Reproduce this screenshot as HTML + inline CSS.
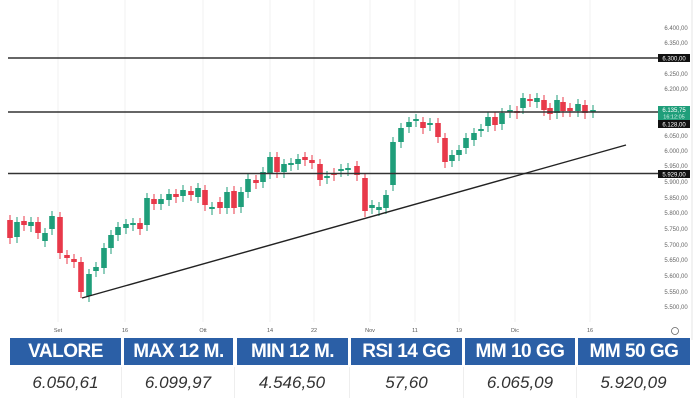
<!DOCTYPE html>
<html><head><meta charset="utf-8"><style>
html,body{margin:0;padding:0;background:#fff;width:700px;height:400px;overflow:hidden;font-family:"Liberation Sans",sans-serif}
.tbl{position:absolute;left:0;top:338px;width:700px}
.c{position:absolute;box-sizing:border-box;text-align:center}
.h{top:0;height:27px;background:#2b5fa6;color:#fff;font-weight:bold;font-size:19px;line-height:28px;letter-spacing:-0.5px}
.v{top:29px;height:31px;color:#333;font-style:italic;font-size:17px;line-height:31px;border-right:1px solid #eee}
</style></head><body>
<svg width="700" height="340" style="position:absolute;left:0;top:0" id="s" xmlns="http://www.w3.org/2000/svg">
<g stroke="#f2f2f2" stroke-width="1">
<line x1="58" y1="0" x2="58" y2="322"/><line x1="125" y1="0" x2="125" y2="322"/><line x1="203" y1="0" x2="203" y2="322"/><line x1="270" y1="0" x2="270" y2="322"/><line x1="314" y1="0" x2="314" y2="322"/><line x1="370" y1="0" x2="370" y2="322"/><line x1="415" y1="0" x2="415" y2="322"/><line x1="459" y1="0" x2="459" y2="322"/><line x1="515" y1="0" x2="515" y2="322"/><line x1="590" y1="0" x2="590" y2="322"/>
</g>
<line x1="692" y1="0" x2="692" y2="340" stroke="#e6e6e6"/>
<g id="cd"></g>
<line x1="8" y1="58" x2="658" y2="58" stroke="#333" stroke-width="1.5"/>
<line x1="8" y1="112" x2="658" y2="112" stroke="#333" stroke-width="1.5"/>
<line x1="8" y1="173.5" x2="658" y2="173.5" stroke="#333" stroke-width="1.5"/>
<line x1="82" y1="298" x2="626" y2="145" stroke="#222" stroke-width="1.4"/>
<g font-size="6" fill="#666" text-anchor="middle">
<text x="676" y="30">6.400,00</text><text x="676" y="45">6.350,00</text><text x="676" y="76">6.250,00</text><text x="676" y="91">6.200,00</text><text x="676" y="138">6.050,00</text><text x="676" y="153">6.000,00</text><text x="676" y="168">5.950,00</text><text x="676" y="184">5.900,00</text><text x="676" y="200">5.850,00</text><text x="676" y="215">5.800,00</text><text x="676" y="231">5.750,00</text><text x="676" y="247">5.700,00</text><text x="676" y="262">5.650,00</text><text x="676" y="278">5.600,00</text><text x="676" y="294">5.550,00</text><text x="676" y="309">5.500,00</text>
</g>
<rect x="658" y="54" width="32" height="8" fill="#111"/><text x="674" y="60.5" font-size="6" fill="#fff" text-anchor="middle">6.300,00</text>
<rect x="658" y="106" width="32" height="14" fill="#1f9e7a"/><text x="674" y="112" font-size="6" fill="#fff" text-anchor="middle">6.135,75</text><text x="674" y="118.5" font-size="5.5" fill="#d8f5ec" text-anchor="middle">16:12:05</text>
<rect x="658" y="120" width="32" height="8" fill="#111"/><text x="674" y="126.5" font-size="6" fill="#fff" text-anchor="middle">6.128,00</text>
<rect x="658" y="170" width="32" height="8" fill="#111"/><text x="674" y="176.5" font-size="6" fill="#fff" text-anchor="middle">5.929,00</text>
<g font-size="5.5" fill="#555" text-anchor="middle">
<text x="58" y="332">Set</text><text x="125" y="332">16</text><text x="203" y="332">Ott</text><text x="270" y="332">14</text><text x="314" y="332">22</text><text x="370" y="332">Nov</text><text x="415" y="332">11</text><text x="459" y="332">19</text><text x="515" y="332">Dic</text><text x="590" y="332">16</text>
</g>
<circle cx="675" cy="331" r="3.5" fill="none" stroke="#666" stroke-width="0.8"/>
</svg>
<div class="tbl">
<div class="c h" style="left:10px;width:111px">VALORE</div>
<div class="c h" style="left:124px;width:109px">MAX 12 M.</div>
<div class="c h" style="left:237px;width:111px">MIN 12 M.</div>
<div class="c h" style="left:351px;width:111px">RSI 14 GG</div>
<div class="c h" style="left:465px;width:110px">MM 10 GG</div>
<div class="c h" style="left:578px;width:112px">MM 50 GG</div>
<div class="c v" style="left:10px;width:112px">6.050,61</div>
<div class="c v" style="left:122px;width:113px">6.099,97</div>
<div class="c v" style="left:235px;width:115px">4.546,50</div>
<div class="c v" style="left:350px;width:114px">57,60</div>
<div class="c v" style="left:464px;width:113px">6.065,09</div>
<div class="c v" style="left:577px;width:113px;border-right:none">5.920,09</div>
</div>
<script>
var d=[[10,'r',220,238],[17,'g',222,237],[24,'r',221,225],[31,'g',222,226],[38,'r',222,233],[45,'g',233,241],[52,'g',216,229],[60,'r',217,253],[67,'r',255,258],[74,'r',259,262],[81,'r',262,292],[89,'g',274,296],[96,'g',267,271],[104,'g',248,268],[111,'g',235,248],[118,'g',227,235],[126,'g',224,228],[133,'g',223,225],[140,'r',223,229],[147,'g',198,225],[154,'r',199,204],[161,'g',199,204],[169,'g',194,200],[176,'r',194,197],[183,'g',190,196],[191,'r',191,195],[198,'g',188,197],[205,'r',190,205],[212,'g',207,209],[220,'r',202,208],[227,'g',192,208],[234,'r',191,208],[241,'g',192,207],[248,'g',179,192],[256,'r',180,183],[263,'g',172,182],[270,'g',157,173],[277,'r',157,172],[284,'g',164,172],[291,'g',163,165],[298,'g',159,164],[305,'r',157,160],[312,'r',160,163],[320,'r',164,180],[327,'g',176,178],[334,'r',173,175],[341,'g',169,171],[348,'g',168,170],[357,'r',166,175],[365,'r',178,211],[372,'g',205,208],[379,'g',207,210],[386,'g',195,208],[393,'g',142,185],[401,'g',128,142],[409,'g',122,127],[416,'g',119,121],[423,'r',122,128],[430,'g',123,125],[438,'r',123,137],[445,'r',138,162],[452,'g',155,161],[459,'g',150,155],[466,'g',138,148],[474,'g',133,140],[481,'g',129,131],[488,'g',117,126],[495,'r',117,125],[502,'g',113,124],[510,'g',110,112],[517,'r',111,113],[523,'g',98,108],[530,'r',99,101],[537,'g',98,102],[544,'r',100,110],[550,'r',108,114],[557,'g',100,113],[563,'r',102,111],[570,'r',108,111],[578,'g',104,111],[585,'r',105,113],[593,'g',110,112]];
var s='';d.forEach(function(c){var col=c[1]=='g'?'#1f9e7a':'#e8394a';var t=c[2],b=c[3];if(b-t<1.5)b=t+1.5;
s+='<line x1="'+c[0]+'" x2="'+c[0]+'" y1="'+(t-5)+'" y2="'+(b+6)+'" stroke="'+col+'" stroke-width="1"/>';
s+='<rect x="'+(c[0]-2.8)+'" y="'+t+'" width="5.6" height="'+(b-t)+'" fill="'+col+'"/>';});
document.getElementById('cd').innerHTML=s;
</script>
</body></html>
